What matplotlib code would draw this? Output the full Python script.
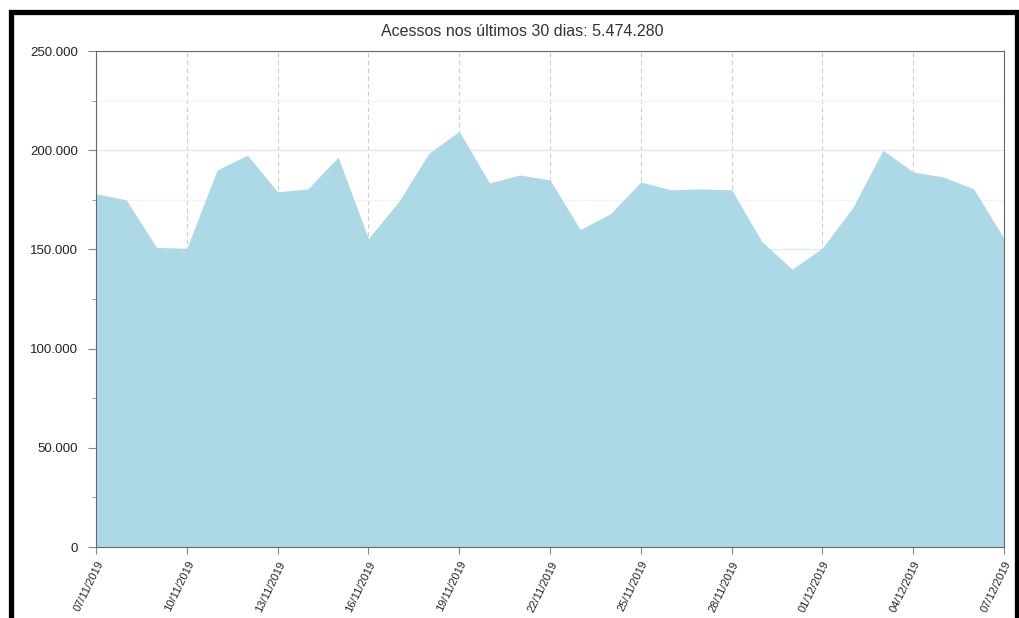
import numpy as np
import matplotlib.pyplot as plt
from matplotlib.patches import Rectangle
from matplotlib.ticker import FuncFormatter, MultipleLocator

# acessos diarios
datas = ['07/11/2019', '08/11/2019', '09/11/2019', '10/11/2019', '11/11/2019', '12/11/2019',
         '13/11/2019', '14/11/2019', '15/11/2019', '16/11/2019', '17/11/2019', '18/11/2019',
         '19/11/2019', '20/11/2019', '21/11/2019', '22/11/2019', '23/11/2019', '24/11/2019',
         '25/11/2019', '26/11/2019', '27/11/2019', '28/11/2019', '29/11/2019', '30/11/2019',
         '01/12/2019', '02/12/2019', '03/12/2019', '04/12/2019', '05/12/2019', '06/12/2019',
         '07/12/2019']
acessos = [178000, 175000, 151000, 150500, 190000, 197500, 179000, 180500, 196500, 155500,
           174000, 198500, 209500, 183500, 187500, 185000, 160000, 168000, 184000, 180000,
           180500, 180000, 154000, 140000, 150700, 171000, 200000, 189000, 186500, 180500,
           155500]
titulo = 'Acessos nos últimos 30 dias: 5.474.280'


def main():
    plt.rcParams['font.family'] = ['Liberation Sans', 'DejaVu Sans']
    fig = plt.figure(figsize=(10.2, 6.18), dpi=100)
    ax = fig.add_axes([96 / 1020, 1 - 547 / 618, 908 / 1020, 496 / 618])

    x = np.arange(len(acessos))
    ax.fill_between(x, acessos, 0, color='#add8e6', lw=0, zorder=2)

    ax.set_xlim(0, len(acessos) - 1)
    ax.set_ylim(0, 250000)
    ax.set_xticks(x[::3])
    ax.set_xticklabels(datas[::3], rotation=64, ha='right', rotation_mode='anchor',
                       fontsize=8, color='#222222')
    ax.yaxis.set_major_locator(MultipleLocator(50000))
    ax.yaxis.set_minor_locator(MultipleLocator(25000))
    ax.yaxis.set_major_formatter(FuncFormatter(lambda v, p: f'{int(v):,}'.replace(',', '.')))
    ax.tick_params(axis='y', labelsize=9.5, colors='#222222', length=6, color='#888888', pad=7)
    ax.tick_params(axis='y', which='minor', length=3, color='#888888')
    ax.tick_params(axis='x', length=5, color='#888888', pad=4)

    ax.grid(axis='y', which='major', color='#e6e6e6', lw=0.9, zorder=0)
    ax.grid(axis='y', which='minor', color='#f4f4f4', lw=0.9, zorder=0)
    ax.grid(axis='x', color='#cccccc', lw=0.8, ls=(0, (4, 3)), zorder=0)

    for s in ax.spines.values():
        s.set_color('#666666')
        s.set_zorder(3)

    fig.text(522 / 1020, 1 - 31 / 618, titulo, ha='center', va='center', fontsize=11.5,
             color='#333333')

    # moldura preta
    fig.patches.append(Rectangle((11 / 1020, -0.05), 1006 / 1020, 1.05 - 11.5 / 618,
                                 transform=fig.transFigure, fill=False, ec='black', lw=3.8))

    fig.savefig('out.png', dpi=100)


if __name__ == '__main__':
    main()
